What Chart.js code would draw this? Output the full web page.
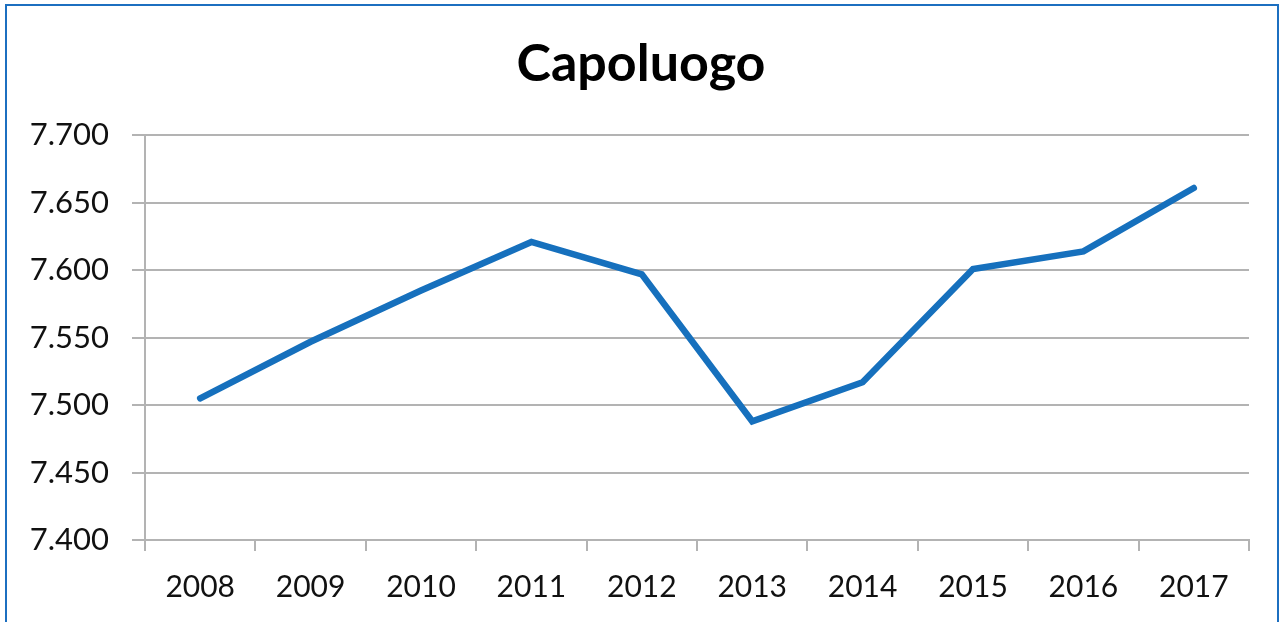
<!DOCTYPE html>
<html>
<head>
<meta charset="utf-8">
<script src="https://cdn.jsdelivr.net/npm/chart.js@4.4.1/dist/chart.umd.min.js"></script>
<style>
  html, body { margin: 0; padding: 0; background: #fff; }
  #wrap { position: relative; width: 1282px; height: 622px; overflow: hidden; }
  #frame {
    position: absolute; left: 5px; top: 4px; width: 1274px; height: 700px;
    box-sizing: border-box; border: 2px solid #1c6fc0; pointer-events: none;
  }
</style>
</head>
<body>
<div id="wrap">
  <canvas id="c" width="1282" height="622"></canvas>
  <div id="frame"></div>
</div>
<script>
// Residenti nel capoluogo, 2008-2017
const years = ['2008', '2009', '2010', '2011', '2012', '2013', '2014', '2015', '2016', '2017'];
const residents = [7505, 7547, 7585, 7621, 7597, 7488, 7517, 7601, 7614, 7661];
const yMin = 7400;
const yMax = 7700;
const yStep = 50;

// Italian thousands separator: 7700 -> "7.700"
function fmt(v) {
  const s = String(Math.round(v));
  return s.replace(/\B(?=(\d{3})+(?!\d))/g, '.');
}

const gridColor = '#b3b3b3';
const fontFamily = 'Lato, "Open Sans", sans-serif';

new Chart(document.getElementById('c'), {
  type: 'line',
  data: {
    labels: years,
    datasets: [{
      label: 'Capoluogo',
      data: residents,
      borderColor: '#1670bd',
      borderWidth: 6.5,
      borderCapStyle: 'round',
      borderJoinStyle: 'miter',
      pointRadius: 0,
      tension: 0,
      fill: false
    }]
  },
  options: {
    responsive: false,
    animation: false,
    layout: { padding: 0 },
    plugins: {
      legend: { display: false },
      tooltip: { enabled: false },
      title: {
        display: true,
        text: 'Capoluogo',
        color: '#000',
        font: { family: fontFamily, size: 52, weight: 'bold' },
        padding: { top: 33, bottom: 40 }
      }
    },
    scales: {
      x: {
        offset: true,
        grid: {
          offset: true,
          drawOnChartArea: false,
          drawTicks: true,
          tickLength: 11,
          color: gridColor,
          lineWidth: 2
        },
        border: { display: true, color: gridColor, width: 2 },
        ticks: {
          color: '#111',
          font: { family: fontFamily, size: 30 },
          padding: 18,
          maxRotation: 0
        },
        afterFit(scale) { scale.height = 82; }
      },
      y: {
        min: yMin,
        max: yMax,
        grid: {
          color: gridColor,
          lineWidth: 2,
          drawTicks: true,
          tickLength: 13
        },
        border: { display: true, color: gridColor, width: 2 },
        ticks: {
          stepSize: yStep,
          color: '#111',
          font: { family: fontFamily, size: 31 },
          padding: 23,
          callback: (v) => fmt(v)
        },
        afterFit(scale) { scale.width = 145; }
      },
      // empty right-hand margin so the title stays centred on the canvas
      yRight: {
        position: 'right',
        display: true,
        min: yMin,
        max: yMax,
        grid: { display: false, drawTicks: false },
        border: { display: false },
        ticks: { display: false },
        afterFit(scale) { scale.width = 33; }
      }
    }
  }
});
</script>
</body>
</html>
